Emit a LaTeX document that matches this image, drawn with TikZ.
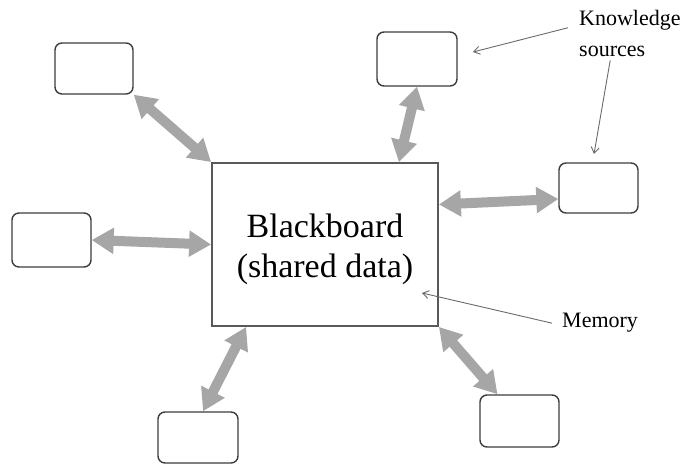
\documentclass[tikz,border=0pt]{standalone}
\usepackage{fontspec}
\setmainfont{Liberation Serif}
\usetikzlibrary{arrows.meta}
\definecolor{edgegray}{HTML}{3C3C3C}
\definecolor{pipegray}{HTML}{A6A6A6}
\definecolor{notegray}{HTML}{6A6A6A}
\tikzset{
  ksbox/.style={draw=edgegray, line width=1.4pt, rounded corners=7pt, fill=white, inner sep=0pt},
  bbbox/.style={draw=edgegray!85, line width=1.8pt, fill=white, inner sep=0pt,
    minimum width=226pt, minimum height=163pt, align=center,
    font=\fontsize{34}{41}\selectfont},
  pipe/.style={draw=pipegray, line width=10pt,
    {Triangle[width=25pt,length=22pt]}-{Triangle[width=25pt,length=22pt]}},
  note/.style={font=\fontsize{22}{27}\selectfont, inner sep=0pt},
  pointer/.style={draw=notegray, line width=0.9pt, -{Straight Barb[length=6pt,width=8pt]}}
}
\begin{document}
\begin{tikzpicture}[x=1pt,y=-1pt]
  \useasboundingbox (0,0) rectangle (687,465);

  % central store
  \node[bbbox] (bb) at (325,244.5) {\raisebox{-5pt}[\height][\depth]{\begin{tabular}{c}Blackboard\\[-1pt](shared data)\end{tabular}}};

  % knowledge sources
  \node[ksbox, minimum width=78pt, minimum height=51pt] (tl) at (94,68.5) {};
  \node[ksbox, minimum width=79pt, minimum height=54pt] (ml) at (51.5,240) {};
  \node[ksbox, minimum width=80pt, minimum height=54pt] (ur) at (417,59) {};
  \node[ksbox, minimum width=79pt, minimum height=50pt] (rr) at (598.5,188) {};
  \node[ksbox, minimum width=80pt, minimum height=51pt] (bl) at (198,437.5) {};
  \node[ksbox, minimum width=79pt, minimum height=52pt] (br) at (519.5,421) {};

  % two-way links to the blackboard
  \draw[pipe] (tl.south east) -- (bb.north west);
  \draw[pipe] (ml.east) -- (bb.west);
  \draw[pipe] (ur.south) -- ([xshift=-40pt]bb.north east);
  \draw[pipe] ([yshift=40pt]bb.east) -- ([yshift=-11pt]rr.west);
  \draw[pipe] ([xshift=35pt]bb.south west) -- ([xshift=5pt]bl.north);
  \draw[pipe] (bb.south east) -- ([xshift=-22pt]br.north);

  % annotations
  \node[note, anchor=base west] (know) at (579,26) {Knowledge};
  \node[note, anchor=base west] (src) at (579,57) {sources};
  \node[note, anchor=base west] (mem) at (562,327) {Memory};

  \coordinate (kaEnd) at (473,52);
  \coordinate (kbEnd) at (594,154);
  \coordinate (mEnd) at (422,293);
  \draw[pointer] ([xshift=-11pt,yshift=-7pt]know.west) -- (kaEnd);
  \draw[pointer] ([xshift=-2pt,yshift=-3pt]src.south) -- (kbEnd);
  \draw[pointer] ([xshift=-10pt,yshift=-1pt]mem.west) -- (mEnd);
\end{tikzpicture}
\end{document}
